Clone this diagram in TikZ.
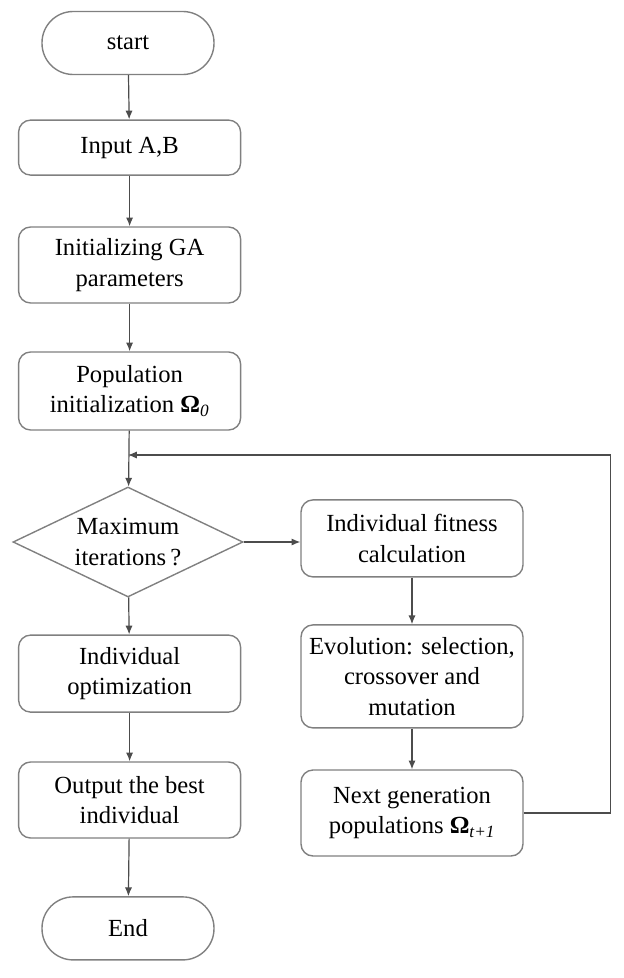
\documentclass[tikz,border=0pt]{standalone}
\usepackage{fontspec}
\setmainfont{Liberation Serif}
\usetikzlibrary{shapes.geometric,arrows.meta}

\tikzset{
	box/.style={draw=black!50, line width=0.35mm, rounded corners=0.3cm, minimum width=5.55cm, align=center, font=\fontsize{17.5}{21.5}\selectfont},
	term/.style={box, rounded corners=0.78cm, minimum width=4.3cm, minimum height=1.575cm},
	cond/.style={draw=black!50, line width=0.35mm, diamond, aspect=2.1, minimum width=5.75cm, minimum height=2.75cm, inner sep=0pt, align=center, font=\fontsize{17.5}{21.5}\selectfont},
	link/.style={draw=black!70, line width=0.3mm, -{Latex[length=2.2mm,width=1.8mm]}}
}

\begin{document}
\begin{tikzpicture}
		%%%%% START %%%%%
		\useasboundingbox (0, 0) rectangle (15.6, -24.45);
		
		\node[term] (start) at (3.2, -1.075) {start};
		\node[box, minimum height=1.375cm] (input) at (3.24, -3.69) {Input A,B};
		\node[box, minimum height=1.9cm] (init) at (3.24, -6.625) {Initializing GA\\parameters};
		\node[box, minimum height=1.95cm] (pop) at (3.24, -9.775) {Population\\initialization \textbf{Ω}\textsubscript{\textit{0}}};
		\node[cond] (maxit) at (3.2, -13.55) {Maximum\\iterations\,?};
		\node[box, minimum height=1.925cm] (optim) at (3.24, -16.84) {Individual\\optimization};
		\node[box, minimum height=1.9cm] (best) at (3.24, -20.0) {Output the best\\individual};
		\node[term] (end) at (3.2, -23.21) {End};
		
		\node[box, minimum height=1.925cm] (fit) at (10.3, -13.46) {Individual fitness\\calculation};
		\node[box, minimum height=2.575cm] (evo) at (10.3, -16.91) {Evolution: selection,\\crossover and\\mutation};
		\node[box, minimum height=2.15cm] (next) at (10.3, -20.325) {Next generation\\populations \textbf{Ω}\textsubscript{\textit{t+1}}};
		
		\coordinate (loop) at (3.2, -11.375);
		
		\draw[link] (start) -- (input);
		\draw[link] (input) -- (init);
		\draw[link] (init) -- (pop);
		\draw[link] (pop) -- (maxit);
		\draw[link] (maxit) -- (optim);
		\draw[link] (optim) -- (best);
		\draw[link] (best) -- (end);
		
		\draw[link] (maxit.east) -- (fit.west |- maxit.east);
		\draw[link] (fit) -- (evo);
		\draw[link] (evo) -- (next);
		\draw[link] (next.east) -- ++(2.175, 0) |- (loop);
		
		%%%%% END %%%%%
\end{tikzpicture}
\end{document}
